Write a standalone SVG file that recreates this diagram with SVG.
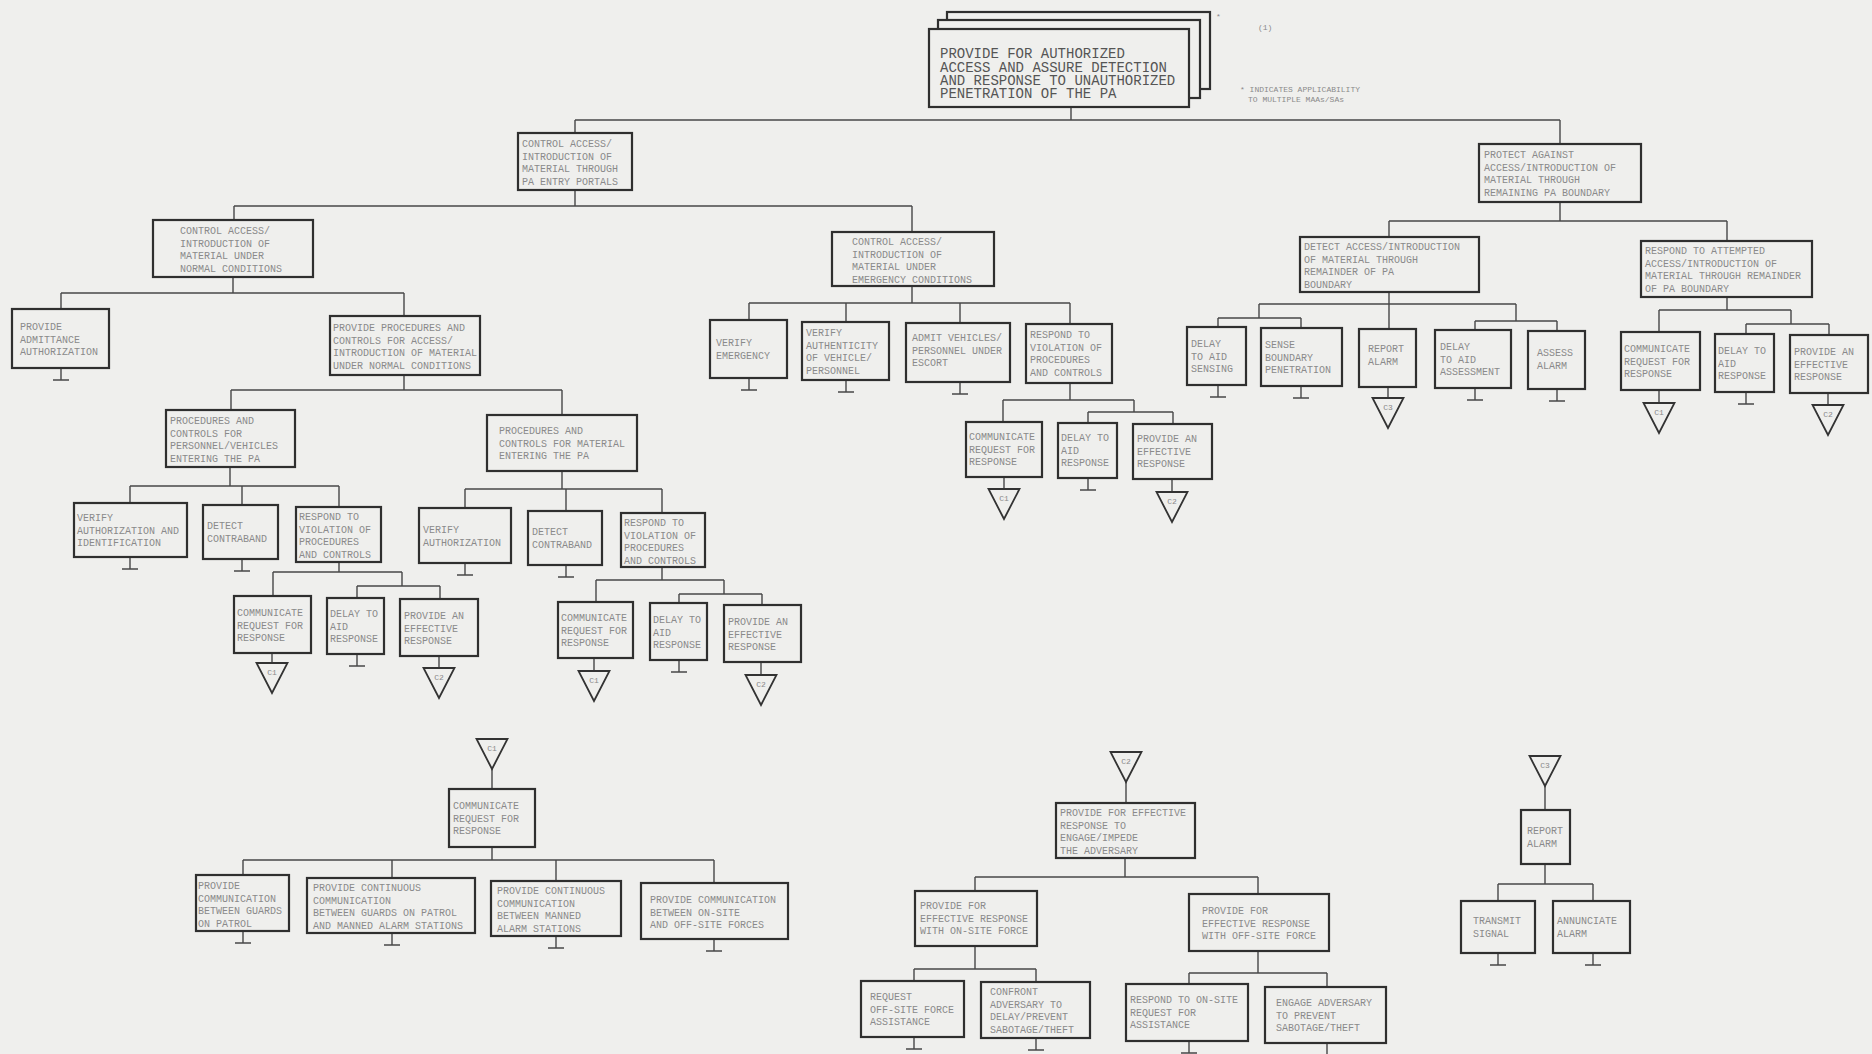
<svg xmlns="http://www.w3.org/2000/svg" xmlns:xlink="http://www.w3.org/1999/xlink" width="1872" height="1054" viewBox="0 0 1872 1054">
<style>
.bg{fill:#efefed}
.b{fill:#efefed;stroke:#2f2f2f;stroke-width:2.2}
.t{font-family:"Liberation Mono","DejaVu Sans Mono",monospace;font-size:10px;fill:#8a8a8a}
.rt{font-family:"Liberation Mono","DejaVu Sans Mono",monospace;font-size:14px;fill:#555}
.n{font-family:"Liberation Mono","DejaVu Sans Mono",monospace;font-size:8px;fill:#8a8a8a}
.c{fill:none;stroke:#484848;stroke-width:1.4}
.tri{fill:none;stroke:#333;stroke-width:1.8}
.tl{font-family:"Liberation Mono",monospace;font-size:8px;fill:#8a8a8a;text-anchor:middle}
</style>
<defs>
<path id="stub" d="M0,0 V12 M-8,12 H8" class="c"/>
<path id="tr" d="M-15.5,0 L15.5,0 L0,30 Z" class="tri"/>
</defs>
<rect class="bg" x="0" y="0" width="1872" height="1054"/>

<g id="connectors">
<path class="c" d="M1071,107 V120 M575,120 H1560 M575,120 V133 M1560,120 V144"/>
<path class="c" d="M575,190 V206 M234,206 H912 M234,206 V220 M912,206 V232"/>
<path class="c" d="M233,277 V293 M61,293 H404 M61,293 V309 M404,293 V316"/>
<path class="c" d="M404,375 V390 M231,390 H562 M231,390 V410 M562,390 V415"/>
<path class="c" d="M230,467 V486 M130,486 H339 M130,486 V503 M242,486 V505 M339,486 V507"/>
<path class="c" d="M339,562 V572 M273,572 H402 M273,572 V596 M402,572 V586 M357,586 H440 M357,586 V598 M440,586 V599"/>
<path class="c" d="M562,471 V489 M465,489 H662 M465,489 V508 M566,489 V511 M662,489 V513"/>
<path class="c" d="M662,567 V580 M596,580 H724 M596,580 V602 M724,580 V594 M679,594 H762 M679,594 V603 M762,594 V605"/>
<path class="c" d="M912,286 V303 M749,303 H1070 M749,303 V320 M846,303 V322 M960,303 V323 M1070,303 V324"/>
<path class="c" d="M1070,383 V400 M1003,400 H1134 M1003,400 V422 M1134,400 V412 M1088,412 H1173 M1088,412 V423 M1173,412 V424"/>
<path class="c" d="M1560,202 V221 M1389,221 H1727 M1389,221 V237 M1727,221 V241"/>
<path class="c" d="M1389,292 V304 M1259,304 H1516 M1259,304 V318 M1218,318 H1301 M1218,318 V327 M1301,318 V328 M1389,304 V329 M1516,304 V321 M1475,321 H1557 M1475,321 V330 M1557,321 V331"/>
<path class="c" d="M1727,297 V310 M1659,310 H1791 M1659,310 V332 M1791,310 V324 M1746,324 H1829 M1746,324 V334 M1829,324 V335"/>
<path class="c" d="M492,769 V789 M492,847 V860 M243,860 H714 M243,860 V875 M392,860 V878 M556,860 V881 M714,860 V883"/>
<path class="c" d="M1126,782 V803 M1125,858 V877 M975,877 H1258 M975,877 V891 M1258,877 V894"/>
<path class="c" d="M975,946 V969 M914,969 H1036 M914,969 V981 M1036,969 V982"/>
<path class="c" d="M1258,951 V973 M1189,973 H1327 M1189,973 V984 M1327,973 V987"/>
<path class="c" d="M1545,785 V810 M1545,864 V884 M1498,884 H1593 M1498,884 V901 M1593,884 V901"/>
<path class="c" d="M272,653 V663 M439,656 V668 M594,658 V671 M761,662 V675 M1004,477 V489 M1172,479 V492 M1388,387 V398 M1659,390 V403 M1828,393 V405"/>
<use xlink:href="#stub" x="61" y="368"/>
<use xlink:href="#stub" x="130" y="557"/>
<use xlink:href="#stub" x="242" y="559"/>
<use xlink:href="#stub" x="357" y="654"/>
<use xlink:href="#stub" x="465" y="563"/>
<use xlink:href="#stub" x="566" y="565"/>
<use xlink:href="#stub" x="679" y="660"/>
<use xlink:href="#stub" x="749" y="378"/>
<use xlink:href="#stub" x="846" y="380"/>
<use xlink:href="#stub" x="960" y="382"/>
<use xlink:href="#stub" x="1088" y="478"/>
<use xlink:href="#stub" x="1218" y="385"/>
<use xlink:href="#stub" x="1301" y="386"/>
<use xlink:href="#stub" x="1475" y="388"/>
<use xlink:href="#stub" x="1557" y="389"/>
<use xlink:href="#stub" x="1746" y="392"/>
<use xlink:href="#stub" x="243" y="931"/>
<use xlink:href="#stub" x="392" y="933"/>
<use xlink:href="#stub" x="556" y="936"/>
<use xlink:href="#stub" x="714" y="939"/>
<use xlink:href="#stub" x="914" y="1037"/>
<use xlink:href="#stub" x="1036" y="1038"/>
<use xlink:href="#stub" x="1189" y="1041"/>
<use xlink:href="#stub" x="1327" y="1043"/>
<use xlink:href="#stub" x="1498" y="953"/>
<use xlink:href="#stub" x="1593" y="953"/>
</g>

<g id="offpage">
<use xlink:href="#tr" x="272" y="663"/><text class="tl" x="272" y="675">C1</text>
<use xlink:href="#tr" x="439" y="668"/><text class="tl" x="439" y="680">C2</text>
<use xlink:href="#tr" x="594" y="671"/><text class="tl" x="594" y="683">C1</text>
<use xlink:href="#tr" x="761" y="675"/><text class="tl" x="761" y="687">C2</text>
<use xlink:href="#tr" x="1004" y="489"/><text class="tl" x="1004" y="501">C1</text>
<use xlink:href="#tr" x="1172" y="492"/><text class="tl" x="1172" y="504">C2</text>
<use xlink:href="#tr" x="1388" y="398"/><text class="tl" x="1388" y="410">C3</text>
<use xlink:href="#tr" x="1659" y="403"/><text class="tl" x="1659" y="415">C1</text>
<use xlink:href="#tr" x="1828" y="405"/><text class="tl" x="1828" y="417">C2</text>
<use xlink:href="#tr" x="492" y="739"/><text class="tl" x="492" y="751">C1</text>
<use xlink:href="#tr" x="1126" y="752"/><text class="tl" x="1126" y="764">C2</text>
<use xlink:href="#tr" x="1545" y="756"/><text class="tl" x="1545" y="768">C3</text>
</g>

<g id="root">
<rect class="b" x="947" y="12" width="263" height="77"/>
<rect class="b" x="938" y="20" width="262" height="78"/>
<rect class="b" x="929" y="29" width="260" height="78"/>
<text class="rt"><tspan x="940" y="58">PROVIDE FOR AUTHORIZED</tspan><tspan x="940" y="71.5">ACCESS AND ASSURE DETECTION</tspan><tspan x="940" y="85">AND RESPONSE TO UNAUTHORIZED</tspan><tspan x="940" y="98">PENETRATION OF THE PA</tspan></text>
<text class="n" x="1216" y="19">*</text>
<text class="n" x="1258" y="30">(1)</text>
</g>
<g id="note">
<text class="n"><tspan x="1240" y="92">* INDICATES APPLICABILITY</tspan><tspan x="1248" y="102">TO MULTIPLE MAAs/SAs</tspan></text>
</g>

<g id="n1"><rect class="b" x="518" y="133" width="114" height="57"/><text class="t"><tspan x="522" y="147">CONTROL ACCESS/</tspan><tspan x="522" dy="12.5">INTRODUCTION OF</tspan><tspan x="522" dy="12.5">MATERIAL THROUGH</tspan><tspan x="522" dy="12.5">PA ENTRY PORTALS</tspan></text></g>
<g id="n2"><rect class="b" x="1479" y="144" width="162" height="58"/><text class="t"><tspan x="1484" y="158">PROTECT AGAINST</tspan><tspan x="1484" dy="12.5">ACCESS/INTRODUCTION OF</tspan><tspan x="1484" dy="12.5">MATERIAL THROUGH</tspan><tspan x="1484" dy="12.5">REMAINING PA BOUNDARY</tspan></text></g>
<g id="n3"><rect class="b" x="153" y="220" width="160" height="57"/><text class="t"><tspan x="180" y="234">CONTROL ACCESS/</tspan><tspan x="180" dy="12.5">INTRODUCTION OF</tspan><tspan x="180" dy="12.5">MATERIAL UNDER</tspan><tspan x="180" dy="12.5">NORMAL CONDITIONS</tspan></text></g>
<g id="n4"><rect class="b" x="832" y="232" width="162" height="54"/><text class="t"><tspan x="852" y="245">CONTROL ACCESS/</tspan><tspan x="852" dy="12.5">INTRODUCTION OF</tspan><tspan x="852" dy="12.5">MATERIAL UNDER</tspan><tspan x="852" dy="12.5">EMERGENCY CONDITIONS</tspan></text></g>
<g id="n5"><rect class="b" x="12" y="309" width="97" height="59"/><text class="t"><tspan x="20" y="330">PROVIDE</tspan><tspan x="20" dy="12.5">ADMITTANCE</tspan><tspan x="20" dy="12.5">AUTHORIZATION</tspan></text></g>
<g id="n6"><rect class="b" x="330" y="316" width="150" height="59"/><text class="t"><tspan x="333" y="331">PROVIDE PROCEDURES AND</tspan><tspan x="333" dy="12.5">CONTROLS FOR ACCESS/</tspan><tspan x="333" dy="12.5">INTRODUCTION OF MATERIAL</tspan><tspan x="333" dy="12.5">UNDER NORMAL CONDITIONS</tspan></text></g>
<g id="n7"><rect class="b" x="166" y="410" width="129" height="57"/><text class="t"><tspan x="170" y="424">PROCEDURES AND</tspan><tspan x="170" dy="12.5">CONTROLS FOR</tspan><tspan x="170" dy="12.5">PERSONNEL/VEHICLES</tspan><tspan x="170" dy="12.5">ENTERING THE PA</tspan></text></g>
<g id="n8"><rect class="b" x="487" y="415" width="150" height="56"/><text class="t"><tspan x="499" y="434">PROCEDURES AND</tspan><tspan x="499" dy="12.5">CONTROLS FOR MATERIAL</tspan><tspan x="499" dy="12.5">ENTERING THE PA</tspan></text></g>
<g id="n9"><rect class="b" x="74" y="503" width="113" height="54"/><text class="t"><tspan x="77" y="521">VERIFY</tspan><tspan x="77" dy="12.5">AUTHORIZATION AND</tspan><tspan x="77" dy="12.5">IDENTIFICATION</tspan></text></g>
<g id="n10"><rect class="b" x="203" y="505" width="75" height="54"/><text class="t"><tspan x="207" y="529">DETECT</tspan><tspan x="207" dy="12.5">CONTRABAND</tspan></text></g>
<g id="n11"><rect class="b" x="296" y="507" width="85" height="55"/><text class="t"><tspan x="299" y="520">RESPOND TO</tspan><tspan x="299" dy="12.5">VIOLATION OF</tspan><tspan x="299" dy="12.5">PROCEDURES</tspan><tspan x="299" dy="12.5">AND CONTROLS</tspan></text></g>
<g id="n12"><rect class="b" x="234" y="596" width="77" height="57"/><text class="t"><tspan x="237" y="616">COMMUNICATE</tspan><tspan x="237" dy="12.5">REQUEST FOR</tspan><tspan x="237" dy="12.5">RESPONSE</tspan></text></g>
<g id="n13"><rect class="b" x="327" y="598" width="57" height="56"/><text class="t"><tspan x="330" y="617">DELAY TO</tspan><tspan x="330" dy="12.5">AID</tspan><tspan x="330" dy="12.5">RESPONSE</tspan></text></g>
<g id="n14"><rect class="b" x="400" y="599" width="78" height="57"/><text class="t"><tspan x="404" y="619">PROVIDE AN</tspan><tspan x="404" dy="12.5">EFFECTIVE</tspan><tspan x="404" dy="12.5">RESPONSE</tspan></text></g>
<g id="n15"><rect class="b" x="419" y="508" width="92" height="55"/><text class="t"><tspan x="423" y="533">VERIFY</tspan><tspan x="423" dy="12.5">AUTHORIZATION</tspan></text></g>
<g id="n16"><rect class="b" x="528" y="511" width="74" height="54"/><text class="t"><tspan x="532" y="535">DETECT</tspan><tspan x="532" dy="12.5">CONTRABAND</tspan></text></g>
<g id="n17"><rect class="b" x="621" y="513" width="84" height="54"/><text class="t"><tspan x="624" y="526">RESPOND TO</tspan><tspan x="624" dy="12.5">VIOLATION OF</tspan><tspan x="624" dy="12.5">PROCEDURES</tspan><tspan x="624" dy="12.5">AND CONTROLS</tspan></text></g>
<g id="n18"><rect class="b" x="558" y="602" width="75" height="56"/><text class="t"><tspan x="561" y="621">COMMUNICATE</tspan><tspan x="561" dy="12.5">REQUEST FOR</tspan><tspan x="561" dy="12.5">RESPONSE</tspan></text></g>
<g id="n19"><rect class="b" x="650" y="603" width="57" height="57"/><text class="t"><tspan x="653" y="623">DELAY TO</tspan><tspan x="653" dy="12.5">AID</tspan><tspan x="653" dy="12.5">RESPONSE</tspan></text></g>
<g id="n20"><rect class="b" x="724" y="605" width="77" height="57"/><text class="t"><tspan x="728" y="625">PROVIDE AN</tspan><tspan x="728" dy="12.5">EFFECTIVE</tspan><tspan x="728" dy="12.5">RESPONSE</tspan></text></g>
<g id="n21"><rect class="b" x="710" y="320" width="77" height="58"/><text class="t"><tspan x="716" y="346">VERIFY</tspan><tspan x="716" dy="12.5">EMERGENCY</tspan></text></g>
<g id="n22"><rect class="b" x="802" y="322" width="87" height="58"/><text class="t"><tspan x="806" y="336">VERIFY</tspan><tspan x="806" dy="12.5">AUTHENTICITY</tspan><tspan x="806" dy="12.5">OF VEHICLE/</tspan><tspan x="806" dy="12.5">PERSONNEL</tspan></text></g>
<g id="n23"><rect class="b" x="906" y="323" width="104" height="59"/><text class="t"><tspan x="912" y="341">ADMIT VEHICLES/</tspan><tspan x="912" dy="12.5">PERSONNEL UNDER</tspan><tspan x="912" dy="12.5">ESCORT</tspan></text></g>
<g id="n24"><rect class="b" x="1026" y="324" width="86" height="59"/><text class="t"><tspan x="1030" y="338">RESPOND TO</tspan><tspan x="1030" dy="12.5">VIOLATION OF</tspan><tspan x="1030" dy="12.5">PROCEDURES</tspan><tspan x="1030" dy="12.5">AND CONTROLS</tspan></text></g>
<g id="n25"><rect class="b" x="966" y="422" width="76" height="55"/><text class="t"><tspan x="969" y="440">COMMUNICATE</tspan><tspan x="969" dy="12.5">REQUEST FOR</tspan><tspan x="969" dy="12.5">RESPONSE</tspan></text></g>
<g id="n26"><rect class="b" x="1058" y="423" width="59" height="55"/><text class="t"><tspan x="1061" y="441">DELAY TO</tspan><tspan x="1061" dy="12.5">AID</tspan><tspan x="1061" dy="12.5">RESPONSE</tspan></text></g>
<g id="n27"><rect class="b" x="1133" y="424" width="79" height="55"/><text class="t"><tspan x="1137" y="442">PROVIDE AN</tspan><tspan x="1137" dy="12.5">EFFECTIVE</tspan><tspan x="1137" dy="12.5">RESPONSE</tspan></text></g>
<g id="n28"><rect class="b" x="1300" y="237" width="179" height="55"/><text class="t"><tspan x="1304" y="250">DETECT ACCESS/INTRODUCTION</tspan><tspan x="1304" dy="12.5">OF MATERIAL THROUGH</tspan><tspan x="1304" dy="12.5">REMAINDER OF PA</tspan><tspan x="1304" dy="12.5">BOUNDARY</tspan></text></g>
<g id="n29"><rect class="b" x="1641" y="241" width="171" height="56"/><text class="t"><tspan x="1645" y="254">RESPOND TO ATTEMPTED</tspan><tspan x="1645" dy="12.5">ACCESS/INTRODUCTION OF</tspan><tspan x="1645" dy="12.5">MATERIAL THROUGH REMAINDER</tspan><tspan x="1645" dy="12.5">OF PA BOUNDARY</tspan></text></g>
<g id="n30"><rect class="b" x="1187" y="327" width="59" height="58"/><text class="t"><tspan x="1191" y="347">DELAY</tspan><tspan x="1191" dy="12.5">TO AID</tspan><tspan x="1191" dy="12.5">SENSING</tspan></text></g>
<g id="n31"><rect class="b" x="1261" y="328" width="81" height="58"/><text class="t"><tspan x="1265" y="348">SENSE</tspan><tspan x="1265" dy="12.5">BOUNDARY</tspan><tspan x="1265" dy="12.5">PENETRATION</tspan></text></g>
<g id="n32"><rect class="b" x="1359" y="329" width="57" height="58"/><text class="t"><tspan x="1368" y="352">REPORT</tspan><tspan x="1368" dy="12.5">ALARM</tspan></text></g>
<g id="n33"><rect class="b" x="1435" y="330" width="76" height="58"/><text class="t"><tspan x="1440" y="350">DELAY</tspan><tspan x="1440" dy="12.5">TO AID</tspan><tspan x="1440" dy="12.5">ASSESSMENT</tspan></text></g>
<g id="n34"><rect class="b" x="1528" y="331" width="57" height="58"/><text class="t"><tspan x="1537" y="356">ASSESS</tspan><tspan x="1537" dy="12.5">ALARM</tspan></text></g>
<g id="n35"><rect class="b" x="1621" y="332" width="79" height="58"/><text class="t"><tspan x="1624" y="352">COMMUNICATE</tspan><tspan x="1624" dy="12.5">REQUEST FOR</tspan><tspan x="1624" dy="12.5">RESPONSE</tspan></text></g>
<g id="n36"><rect class="b" x="1715" y="334" width="59" height="58"/><text class="t"><tspan x="1718" y="354">DELAY TO</tspan><tspan x="1718" dy="12.5">AID</tspan><tspan x="1718" dy="12.5">RESPONSE</tspan></text></g>
<g id="n37"><rect class="b" x="1790" y="335" width="78" height="58"/><text class="t"><tspan x="1794" y="355">PROVIDE AN</tspan><tspan x="1794" dy="12.5">EFFECTIVE</tspan><tspan x="1794" dy="12.5">RESPONSE</tspan></text></g>
<g id="n38"><rect class="b" x="449" y="789" width="86" height="58"/><text class="t"><tspan x="453" y="809">COMMUNICATE</tspan><tspan x="453" dy="12.5">REQUEST FOR</tspan><tspan x="453" dy="12.5">RESPONSE</tspan></text></g>
<g id="n39"><rect class="b" x="196" y="875" width="93" height="56"/><text class="t"><tspan x="198" y="889">PROVIDE</tspan><tspan x="198" dy="12.5">COMMUNICATION</tspan><tspan x="198" dy="12.5">BETWEEN GUARDS</tspan><tspan x="198" dy="12.5">ON PATROL</tspan></text></g>
<g id="n40"><rect class="b" x="307" y="878" width="168" height="55"/><text class="t"><tspan x="313" y="891">PROVIDE CONTINUOUS</tspan><tspan x="313" dy="12.5">COMMUNICATION</tspan><tspan x="313" dy="12.5">BETWEEN GUARDS ON PATROL</tspan><tspan x="313" dy="12.5">AND MANNED ALARM STATIONS</tspan></text></g>
<g id="n41"><rect class="b" x="491" y="881" width="130" height="55"/><text class="t"><tspan x="497" y="894">PROVIDE CONTINUOUS</tspan><tspan x="497" dy="12.5">COMMUNICATION</tspan><tspan x="497" dy="12.5">BETWEEN MANNED</tspan><tspan x="497" dy="12.5">ALARM STATIONS</tspan></text></g>
<g id="n42"><rect class="b" x="641" y="883" width="147" height="56"/><text class="t"><tspan x="650" y="903">PROVIDE COMMUNICATION</tspan><tspan x="650" dy="12.5">BETWEEN ON-SITE</tspan><tspan x="650" dy="12.5">AND OFF-SITE FORCES</tspan></text></g>
<g id="n43"><rect class="b" x="1056" y="803" width="139" height="55"/><text class="t"><tspan x="1060" y="816">PROVIDE FOR EFFECTIVE</tspan><tspan x="1060" dy="12.5">RESPONSE TO</tspan><tspan x="1060" dy="12.5">ENGAGE/IMPEDE</tspan><tspan x="1060" dy="12.5">THE ADVERSARY</tspan></text></g>
<g id="n44"><rect class="b" x="915" y="891" width="122" height="55"/><text class="t"><tspan x="920" y="909">PROVIDE FOR</tspan><tspan x="920" dy="12.5">EFFECTIVE RESPONSE</tspan><tspan x="920" dy="12.5">WITH ON-SITE FORCE</tspan></text></g>
<g id="n45"><rect class="b" x="1189" y="894" width="140" height="57"/><text class="t"><tspan x="1202" y="914">PROVIDE FOR</tspan><tspan x="1202" dy="12.5">EFFECTIVE RESPONSE</tspan><tspan x="1202" dy="12.5">WITH OFF-SITE FORCE</tspan></text></g>
<g id="n46"><rect class="b" x="861" y="981" width="103" height="56"/><text class="t"><tspan x="870" y="1000">REQUEST</tspan><tspan x="870" dy="12.5">OFF-SITE FORCE</tspan><tspan x="870" dy="12.5">ASSISTANCE</tspan></text></g>
<g id="n47"><rect class="b" x="981" y="982" width="109" height="56"/><text class="t"><tspan x="990" y="995">CONFRONT</tspan><tspan x="990" dy="12.5">ADVERSARY TO</tspan><tspan x="990" dy="12.5">DELAY/PREVENT</tspan><tspan x="990" dy="12.5">SABOTAGE/THEFT</tspan></text></g>
<g id="n48"><rect class="b" x="1126" y="984" width="122" height="57"/><text class="t"><tspan x="1130" y="1003">RESPOND TO ON-SITE</tspan><tspan x="1130" dy="12.5">REQUEST FOR</tspan><tspan x="1130" dy="12.5">ASSISTANCE</tspan></text></g>
<g id="n49"><rect class="b" x="1265" y="987" width="121" height="56"/><text class="t"><tspan x="1276" y="1006">ENGAGE ADVERSARY</tspan><tspan x="1276" dy="12.5">TO PREVENT</tspan><tspan x="1276" dy="12.5">SABOTAGE/THEFT</tspan></text></g>
<g id="n50"><rect class="b" x="1521" y="810" width="49" height="54"/><text class="t"><tspan x="1527" y="834">REPORT</tspan><tspan x="1527" dy="12.5">ALARM</tspan></text></g>
<g id="n51"><rect class="b" x="1461" y="901" width="74" height="52"/><text class="t"><tspan x="1473" y="924">TRANSMIT</tspan><tspan x="1473" dy="12.5">SIGNAL</tspan></text></g>
<g id="n52"><rect class="b" x="1553" y="901" width="77" height="52"/><text class="t"><tspan x="1557" y="924">ANNUNCIATE</tspan><tspan x="1557" dy="12.5">ALARM</tspan></text></g>
</svg>
